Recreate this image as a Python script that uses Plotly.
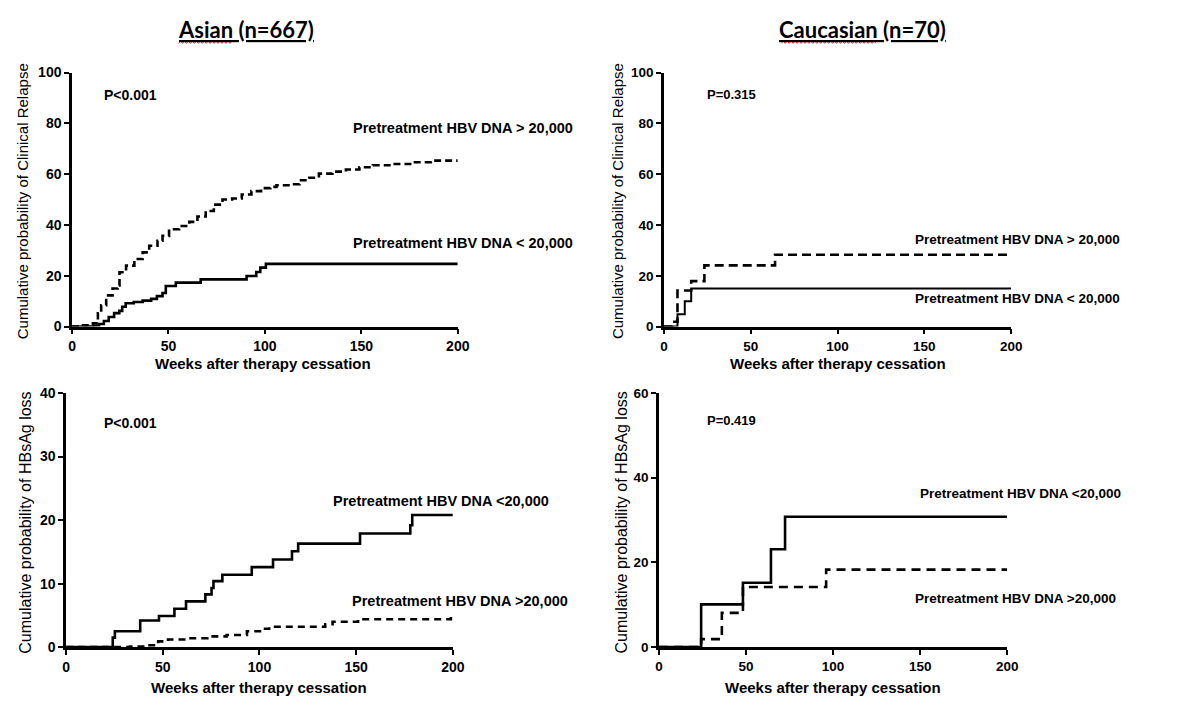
import plotly.graph_objects as go

W, H = 1181, 704

# ---------------- data ----------------
# Asian, clinical relapse
asian_rel_hi_t = [0, 5.7, 10.8, 13.4, 15.1, 17.7, 21, 23.7, 24.6, 28, 32.3, 36.6, 40, 44.3, 46.9, 50.3,
                  55.5, 60.8, 65, 69.3, 73.5, 78, 83, 88, 93, 98, 102.8, 106, 113, 118, 123, 128, 135,
                  142, 149, 156, 166, 176, 186, 200]
asian_rel_hi_y = [0, 0.5, 1.3, 5.2, 8.4, 12.3, 15, 16.2, 21.4, 24, 26.6, 29.2, 31.8, 33.8, 35.7, 38.3,
                  39.6, 41.2, 43.3, 45.5, 48, 50, 50.4, 52, 53.3, 54.5, 55, 55.6, 56, 57.6, 58.6, 60.2, 61,
                  61.8, 62.7, 63.5, 64, 64.7, 65.3, 65.3]
asian_rel_lo_t = [0, 11.5, 14, 16.5, 19, 21.8, 24.5, 26, 27.8, 32, 36.6, 41, 44, 46.9, 48.6, 53.8,
                  66.7, 90.5, 95.5, 97.6, 100.5, 200]
asian_rel_lo_y = [0, 0.4, 1, 2.2, 3.8, 5.3, 6.2, 7.8, 9.2, 9.7, 10.2, 10.9, 12, 13.2, 16, 17.3,
                  18.6, 19.9, 21.5, 23.2, 24.7, 24.7]

# Caucasian, clinical relapse
cauc_rel_hi_t = [0, 4.7, 7.8, 15.7, 23.3, 64, 200]
cauc_rel_hi_y = [0, 1.9, 14.2, 17.9, 24.1, 28.3, 28.3]
cauc_rel_lo_t = [0, 7.8, 12, 15.7, 200]
cauc_rel_lo_y = [0, 4.9, 10, 15, 15]

# Asian, HBsAg loss
asian_hbs_lo_t = [0, 24.1, 25.2, 38.3, 48, 56, 62, 72, 75.2, 76.2, 80.8, 96, 107, 116.8, 120, 152,
                  178, 179, 200]
asian_hbs_lo_y = [0, 1.5, 2.5, 4.2, 4.9, 6.05, 7.2, 8.3, 9.3, 10.4, 11.4, 12.6, 13.8, 15.1, 16.3,
                  17.9, 19.2, 20.8, 20.8]
asian_hbs_hi_t = [0, 33, 41, 47.6, 52.7, 63, 73, 83, 93.5, 102, 105, 134, 137.8, 151, 199, 200]
asian_hbs_hi_y = [0, 0.1, 0.3, 0.9, 1.2, 1.4, 1.7, 1.9, 2.5, 2.9, 3.2, 3.6, 4, 4.4, 5, 5]

# Caucasian, HBsAg loss
cauc_hbs_lo_t = [0, 24.2, 48.2, 64.3, 72.4, 200]
cauc_hbs_lo_y = [0, 10.1, 15.2, 23.1, 30.8, 30.8]
cauc_hbs_hi_t = [0, 24.2, 36.1, 48.2, 96, 200]
cauc_hbs_hi_y = [0, 1.9, 8.1, 14.2, 18.3, 18.3]

x_ticks = [0, 50, 100, 150, 200]
y_ticks_rel = [0, 20, 40, 60, 80, 100]
y_ticks_hbs_asian = [0, 10, 20, 30, 40]
y_ticks_hbs_cauc = [0, 20, 40, 60]

group_titles = ["Asian (n=667)", "Caucasian (n=70)"]
x_title = "Weeks after therapy cessation"
y_title_rel = "Cumulative probability of Clinical Relapse"
y_title_hbs = "Cumulative probability of HBsAg loss"

# ---------------- layout helpers ----------------
def px_x(p):
    return p / W

def px_y(p):
    return 1 - p / H

FONT = "Liberation Sans, Arial, sans-serif"

# panel pixel boxes: (left, right, top, bottom)
boxes = {
    1: (69, 460, 66, 326),
    2: (669, 1021, 66, 326),
    3: (63, 455, 394, 654),
    4: (664, 1017, 394, 654),
}
yranges = {1: [0, 100], 2: [0, 100], 3: [0, 40], 4: [0, 60]}
yticks = {1: y_ticks_rel, 2: y_ticks_rel, 3: y_ticks_hbs_asian, 4: y_ticks_hbs_cauc}
tick_sizes = {1: 14, 2: 13.5, 3: 14, 4: 13.5}

fig = go.Figure()

def add_curve(i, t, y, dash, width=2.6):
    fig.add_trace(go.Scatter(
        x=t, y=y, mode="lines", line=dict(color="black", width=width, dash=dash, shape="hv"),
        xaxis="x" if i == 1 else f"x{i}", yaxis="y" if i == 1 else f"y{i}",
        showlegend=False, hoverinfo="skip"))

add_curve(1, asian_rel_hi_t, asian_rel_hi_y, "7px,4px")
add_curve(1, asian_rel_lo_t, asian_rel_lo_y, "solid")
add_curve(2, cauc_rel_hi_t, cauc_rel_hi_y, "9px,5px")
add_curve(2, cauc_rel_lo_t, cauc_rel_lo_y, "solid", width=2)
add_curve(3, asian_hbs_hi_t, asian_hbs_hi_y, "7px,5px")
add_curve(3, asian_hbs_lo_t, asian_hbs_lo_y, "solid")
add_curve(4, cauc_hbs_hi_t, cauc_hbs_hi_y, "9px,6px")
add_curve(4, cauc_hbs_lo_t, cauc_hbs_lo_y, "solid")

layout = dict(
    width=W, height=H,
    margin=dict(l=0, r=0, t=0, b=0),
    paper_bgcolor="white", plot_bgcolor="white",
    showlegend=False,
)
for i, (l, r, t, b) in boxes.items():
    xs = "xaxis" if i == 1 else f"xaxis{i}"
    ys = "yaxis" if i == 1 else f"yaxis{i}"
    common = dict(showline=True, linecolor="black", linewidth=2.6, ticks="outside",
                  ticklen=5, tickwidth=2.4, tickcolor="black", showgrid=False, zeroline=False,
                  tickfont=dict(family=FONT, size=tick_sizes[i], color="black", weight="bold"),
                  fixedrange=True)
    layout[xs] = dict(domain=[px_x(l), px_x(r)], range=[0, 200], tickvals=x_ticks,
                      anchor="y" if i == 1 else f"y{i}", ticklabelstandoff=0, **common)
    layout[ys] = dict(domain=[px_y(b), px_y(t)], range=yranges[i], tickvals=yticks[i],
                      anchor="x" if i == 1 else f"x{i}", ticklabelstandoff=0, **common)
fig.update_layout(**layout)

ann = []

def text(x, y, s, size=14, bold=True, xanchor="left", angle=0, family=FONT, **kw):
    ann.append(dict(x=x, y=y, text=s, showarrow=False, xanchor=xanchor, yanchor="middle",
                    textangle=angle, xref="paper", yref="paper", borderpad=0,
                    font=dict(family=family, size=size, color="black",
                              weight="bold" if bold else "normal", **kw)))

# group titles
text(px_x(245), px_y(22), group_titles[0], size=22, xanchor="center", family="Lato, Open Sans, sans-serif",
     lineposition="under")
text(px_x(870), px_y(22), group_titles[1], size=22, xanchor="center", family="Lato, Open Sans, sans-serif",
     lineposition="under")

# x titles
text(px_x(263), px_y(364), x_title, size=15, xanchor="center")
text(px_x(845), px_y(364), x_title, size=15, xanchor="center")
text(px_x(259), px_y(695), x_title, size=15, xanchor="center")
text(px_x(840), px_y(695), x_title, size=15, xanchor="center")

# y titles
text(px_x(19), px_y(198), y_title_rel, size=15, bold=False, xanchor="center", angle=-90)
text(px_x(622), px_y(198), y_title_rel, size=15, bold=False, xanchor="center", angle=-90)
text(px_x(21), px_y(527), y_title_hbs, size=16, bold=False, xanchor="center", angle=-90)
text(px_x(626), px_y(527), y_title_hbs, size=16, bold=False, xanchor="center", angle=-90)

# in-panel labels
text(px_x(100), px_y(89), "P<0.001", size=14)
text(px_x(353), px_y(123), "Pretreatment HBV DNA &gt; 20,000", size=14.5)
text(px_x(353), px_y(240), "Pretreatment HBV DNA &lt; 20,000", size=14.5)

text(px_x(712), px_y(89), "P=0.315", size=13)
text(px_x(922), px_y(237), "Pretreatment HBV DNA &gt; 20,000", size=13.5)
text(px_x(922), px_y(297), "Pretreatment HBV DNA &lt; 20,000", size=13.5)

text(px_x(100), px_y(425), "P<0.001", size=14)
text(px_x(332), px_y(504), "Pretreatment HBV DNA &lt;20,000", size=14.5)
text(px_x(352), px_y(607), "Pretreatment HBV DNA &gt;20,000", size=14.5)

text(px_x(712), px_y(422), "P=0.419", size=13)
text(px_x(928), px_y(497), "Pretreatment HBV DNA &lt;20,000", size=13.5)
text(px_x(922), px_y(604), "Pretreatment HBV DNA &gt;20,000", size=13.5)

fig.update_layout(annotations=ann)

# spell-check squiggles under "Asian" and "Caucasian"
def squiggle(x0, x1, y, amp=1.2, step=2.0):
    pts = []
    x = x0
    k = 0
    while x <= x1:
        yy = y + (amp if k % 2 == 0 else -amp)
        pts.append(f"{px_x(x):.5f},{px_y(yy):.5f}")
        x += step
        k += 1
    return "M " + " L ".join(pts)

for (a, b) in [(177, 232), (788, 885)]:
    fig.add_shape(type="path", path=squiggle(a, b, 35), xref="paper", yref="paper",
                  line=dict(color="#e03030", width=1))

fig.write_html("out.html", config={"displayModeBar": False},
               post_script="document.body.style.margin='0';document.body.style.overflow='hidden';")
